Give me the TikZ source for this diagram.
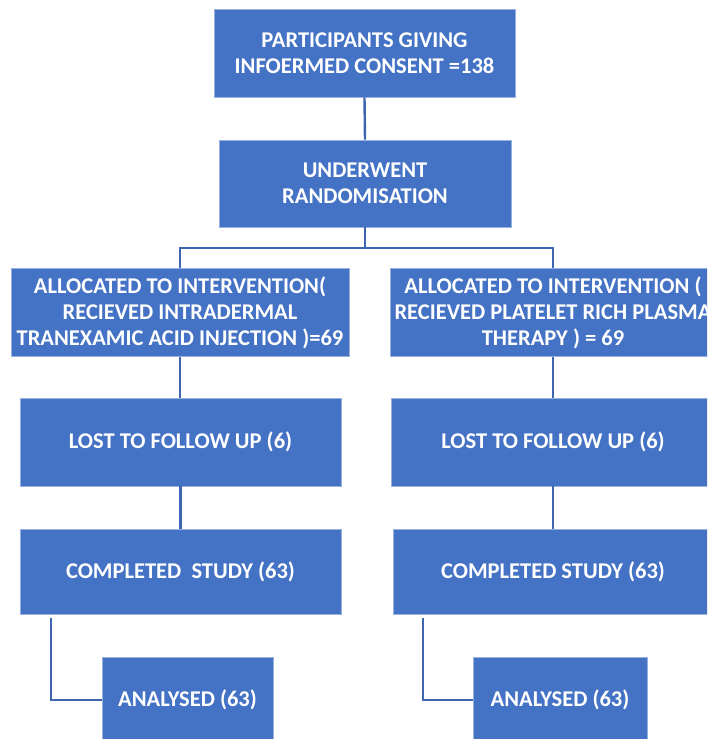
\documentclass[tikz,border=0pt]{standalone}
\usepackage{fontspec}
\setmainfont{Carlito}
\definecolor{boxblue}{HTML}{4472C4}
\definecolor{lineblue}{HTML}{3E66B0}
\tikzset{
  box/.style={rectangle, fill=boxblue, draw=boxblue!55!white, line width=0.7pt,
    text=white, font=\bfseries\fontsize{22.5}{26}\selectfont, align=center, inner sep=0pt},
  conn/.style={draw=lineblue, line width=2.4pt}
}
\begin{document}
\begin{tikzpicture}[x=1pt,y=-1pt]
\useasboundingbox (0,0) rectangle (707,739);
\clip (0,0) rectangle (707,739);
\node[box, minimum width=301pt, minimum height=88pt] (top) at (364.5,53) {PARTICIPANTS GIVING\\INFOERMED CONSENT =138};
\node[box, minimum width=292pt, minimum height=87pt] (rand) at (365,183.5) {UNDERWENT\\RANDOMISATION};
\node[box, minimum width=338pt, minimum height=88pt] (allocL) at (180,312.5) {ALLOCATED TO INTERVENTION(\\RECIEVED INTRADERMAL\\TRANEXAMIC ACID INJECTION )=69};
\node[box, minimum width=326pt, minimum height=88pt] (allocR) at (553,312.5) {ALLOCATED TO INTERVENTION (\\RECIEVED PLATELET RICH PLASMA\\THERAPY ) = 69};
\node[box, minimum width=321pt, minimum height=88pt] (lostL) at (180.5,442) {LOST TO FOLLOW UP (6)};
\node[box, minimum width=324pt, minimum height=88pt] (lostR) at (553,442) {LOST TO FOLLOW UP (6)};
\node[box, minimum width=321pt, minimum height=85pt] (compL) at (180.5,571.5) {COMPLETED\ \ STUDY (63)};
\node[box, minimum width=320pt, minimum height=85pt] (compR) at (553,571.5) {COMPLETED STUDY (63)};
\node[box, minimum width=171pt, minimum height=86pt] (anaL) at (187.5,700) {ANALYSED (63)};
\node[box, minimum width=174pt, minimum height=86pt] (anaR) at (560,700) {ANALYSED (63)};
\coordinate (bh) at (0,248);
\coordinate (eL) at (51,618);
\coordinate (eR) at (423,618);
\draw[conn] (top.south) -- (rand.north);
\draw[conn] (rand.south) -- (rand.south |- bh);
\draw[conn] (allocL.north) -- (allocL.north |- bh) -- (allocR.north |- bh) -- (allocR.north);
\draw[conn] (allocL.south) -- (lostL.north -| allocL.south);
\draw[conn] (allocR.south) -- (lostR.north -| allocR.south);
\draw[conn] (lostL.south) -- (compL.north);
\draw[conn] (lostR.south) -- (compR.north);
\draw[conn] (eL) |- (anaL.west);
\draw[conn] (eR) |- (anaR.west);
\end{tikzpicture}
\end{document}
